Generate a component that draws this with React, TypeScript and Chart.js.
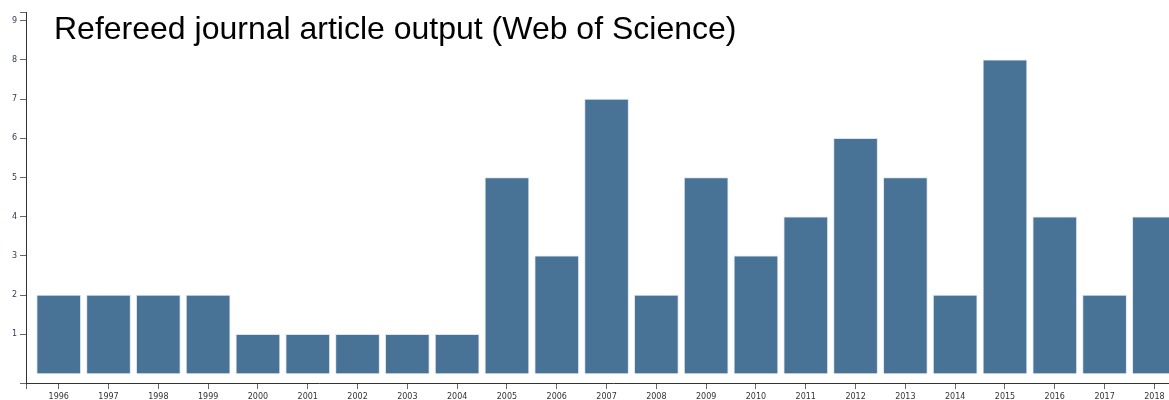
import React, { useEffect, useRef } from "react";
import { Chart, registerables } from "chart.js";

Chart.register(...registerables);

const TITLE = "Refereed journal article output (Web of Science)";
const YEARS = [1996, 1997, 1998, 1999, 2000, 2001, 2002, 2003, 2004, 2005, 2006, 2007, 2008, 2009, 2010, 2011, 2012, 2013, 2014, 2015, 2016, 2017, 2018];
const ARTICLES = [2, 2, 2, 2, 1, 1, 1, 1, 1, 5, 3, 7, 2, 5, 3, 4, 6, 5, 2, 8, 4, 2, 4];
const Y_TICKS = [1, 2, 3, 4, 5, 6, 7, 8, 9];
const Y_MIN = -0.242;
const Y_MAX = 9.222;
const X_MIN = 1995.343;
const X_MAX = 2018.916;

const CANVAS_W = 1200;
const CANVAS_H = 400;

export default function App() {
  const ref = useRef<HTMLCanvasElement | null>(null);

  useEffect(() => {
    const canvas = ref.current;
    if (!canvas) return;
    const chart = new Chart(canvas, {
      type: "bar",
      data: {
        datasets: [
          {
            data: YEARS.map((y, i) => ({ x: y, y: ARTICLES[i] })),
            backgroundColor: "#487296",
            borderColor: "#dbe4ec",
            borderWidth: 1,
            barThickness: 44,
          },
        ],
      },
      options: {
        responsive: false,
        animation: false,
        devicePixelRatio: 1,
        layout: { padding: { top: 12, left: 0, right: 0, bottom: 0 } },
        plugins: {
          legend: { display: false },
          tooltip: { enabled: false },
          title: { display: false },
        },
        scales: {
          x: {
            type: "linear",
            offset: false,
            min: X_MIN,
            max: X_MAX,
            afterBuildTicks: (scale: any) => {
              scale.ticks = [X_MIN, ...YEARS].map((v) => ({ value: v }));
            },
            afterFit: (scale: any) => {
              scale.height = 17;
            },
            grid: {
              offset: false,
              drawOnChartArea: false,
              drawTicks: true,
              tickLength: 6,
              color: "#666",
            },
            border: { display: true, color: "#333", width: 1 },
            ticks: {
              autoSkip: false,
              maxRotation: 0,
              padding: 3,
              color: "#333",
              font: { family: "DejaVu Sans", size: 8 },
              callback: (v: any) => (YEARS.includes(Number(v)) ? String(v) : ""),
            },
          },
          y: {
            type: "linear",
            min: Y_MIN,
            max: Y_MAX,
            afterBuildTicks: (scale: any) => {
              scale.ticks = [Y_MIN, ...Y_TICKS, Y_MAX].map((v) => ({ value: v }));
            },
            afterFit: (scale: any) => {
              scale.width = 26;
            },
            grid: {
              drawOnChartArea: false,
              drawTicks: true,
              tickLength: 6,
              color: "#666",
            },
            border: { display: true, color: "#333", width: 1 },
            ticks: {
              padding: 3,
              color: "#343a5c",
              font: { family: "DejaVu Sans", size: 8 },
              callback: (v: any) => (Y_TICKS.includes(Number(v)) ? String(v) : ""),
            },
          },
        },
      },
    } as any);
    return () => chart.destroy();
  }, []);

  return (
    <div
      style={{
        position: "fixed",
        left: 0,
        top: 0,
        width: 1169,
        height: 400,
        overflow: "hidden",
        background: "#fff",
      }}
    >
      <canvas
        ref={ref}
        width={CANVAS_W}
        height={CANVAS_H}
        style={{ display: "block", width: CANVAS_W, height: CANVAS_H }}
      />
      <div
        style={{
          position: "absolute",
          left: 54,
          top: 12,
          fontFamily: "'Liberation Sans', Arial, Helvetica, sans-serif",
          fontSize: 32,
          lineHeight: "32px",
          color: "#000",
          whiteSpace: "nowrap",
        }}
      >
        {TITLE}
      </div>
    </div>
  );
}
